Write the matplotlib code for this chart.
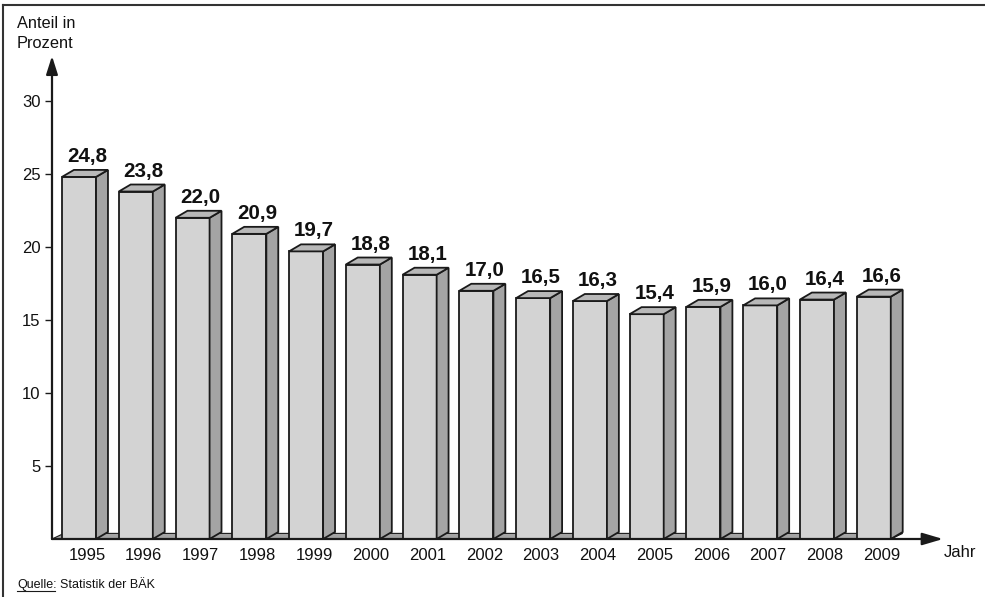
import matplotlib
matplotlib.use("Agg")
import matplotlib.pyplot as plt
from matplotlib.patches import Polygon
from matplotlib.lines import Line2D

plt.rcParams['font.family'] = ['Liberation Sans', 'DejaVu Sans']

# ---- data ----
years = ["1995", "1996", "1997", "1998", "1999", "2000", "2001", "2002",
         "2003", "2004", "2005", "2006", "2007", "2008", "2009"]
values = [24.8, 23.8, 22.0, 20.9, 19.7, 18.8, 18.1, 17.0,
          16.5, 16.3, 15.4, 15.9, 16.0, 16.4, 16.6]
yticks = [5, 10, 15, 20, 25, 30]

# ---- style ----
W, H = 985, 597
front_c = "#d3d3d3"
side_c = "#a4a4a4"
top_c = "#b8b8b8"
edge_c = "#1a1a1a"
txt_c = "#111111"
bar_w = 0.6
dx = 0.21   # depth in x data units
dy = 0.48   # depth in y data units

fig = plt.figure(figsize=(W / 100, H / 100), dpi=100)

def fx(px):
    return px / W

def fy(py):
    return 1 - py / H

ax_left, ax_right, ax_bottom, ax_top = 52, 943, 539, 56
ax = fig.add_axes([fx(ax_left), fy(ax_bottom), fx(ax_right - ax_left), (ax_bottom - ax_top) / H])
ax.set_xlim(-0.476, 15.22)
ax.set_ylim(0, (ax_bottom - ax_top) / 14.6)
for s in ax.spines.values():
    s.set_visible(False)
ax.patch.set_alpha(0)

n = len(values)
# floor
x0 = ax.get_xlim()[0]
x1 = (n - 1) + bar_w / 2
floor = Polygon([(x0, 0), (x1, 0), (x1 + dx, dy * 0.8), (x0 + dx, dy * 0.8)],
                closed=True, facecolor=side_c, edgecolor=edge_c, lw=0.8, zorder=1)
ax.add_patch(floor)

# bars
ax.bar(range(n), values, width=bar_w, color=front_c, edgecolor=edge_c, lw=1.3, zorder=3)
for i, v in enumerate(values):
    l, r = i - bar_w / 2, i + bar_w / 2
    side = Polygon([(r, 0), (r + dx, dy), (r + dx, v + dy), (r, v)], closed=True,
                   facecolor=side_c, edgecolor=edge_c, lw=1.3, zorder=3)
    top = Polygon([(l, v), (r, v), (r + dx, v + dy), (l + dx, v + dy)], closed=True,
                  facecolor=top_c, edgecolor=edge_c, lw=1.3, zorder=3)
    ax.add_patch(side)
    ax.add_patch(top)
    ax.annotate(f"{v:.1f}".replace(".", ","), xy=(i + 0.14, v), xytext=(0, 10.8),
                textcoords="offset points", ha="center", va="baseline",
                fontsize=14.8, fontweight="bold", color=txt_c, zorder=4)

# ticks
ax.set_xticks([i + 0.14 for i in range(n)])
ax.set_xticklabels(years, fontsize=12, color=txt_c)
ax.tick_params(axis="x", length=0, pad=6.2)
ax.set_yticks(yticks)
ax.set_yticklabels([str(t) for t in yticks], fontsize=12, color=txt_c)
ax.tick_params(axis="y", length=5, width=1.0, pad=3.4, color="#1a1a1a")

# axis arrows
ax.annotate("", xy=(0, 1), xycoords="axes fraction", xytext=(0, 0),
            arrowprops=dict(arrowstyle="-|>,head_length=1.1,head_width=0.35",
                            color="#1a1a1a", lw=1.6, shrinkA=0, shrinkB=0), zorder=5)
ax.annotate("", xy=(1, 0), xycoords="axes fraction", xytext=(0, 0),
            arrowprops=dict(arrowstyle="-|>,head_length=1.25,head_width=0.37",
                            color="#1a1a1a", lw=1.6, shrinkA=0, shrinkB=0), zorder=5)

# texts
fig.text(fx(17), fy(28), "Anteil in", fontsize=11.8, ha="left", va="baseline", color=txt_c)
fig.text(fx(17), fy(48), "Prozent", fontsize=11.8, ha="left", va="baseline", color=txt_c)
fig.text(fx(944), fy(557), "Jahr", fontsize=12, ha="left", va="baseline", color=txt_c)
q = fig.text(fx(17), fy(588), "Quelle:", fontsize=9, ha="left", va="baseline", color=txt_c)
fig.canvas.draw()
bb = q.get_window_extent()
q2 = fig.text(fx(17 + bb.width + 3), fy(588), "Statistik der BÄK", fontsize=9,
              ha="left", va="baseline", color=txt_c)
fig.add_artist(Line2D([fx(17), fx(17 + bb.width - 2)], [fy(591), fy(591)],
                      transform=fig.transFigure, color="#1a1a1a", lw=0.8))

# frame
fig.add_artist(Line2D([fx(3), fx(985)], [fy(5), fy(5)], transform=fig.transFigure,
                      color="#333333", lw=1.5))
fig.add_artist(Line2D([fx(3), fx(3)], [fy(5), fy(597)], transform=fig.transFigure,
                      color="#333333", lw=1.5))

fig.savefig("out.png", dpi=100)
